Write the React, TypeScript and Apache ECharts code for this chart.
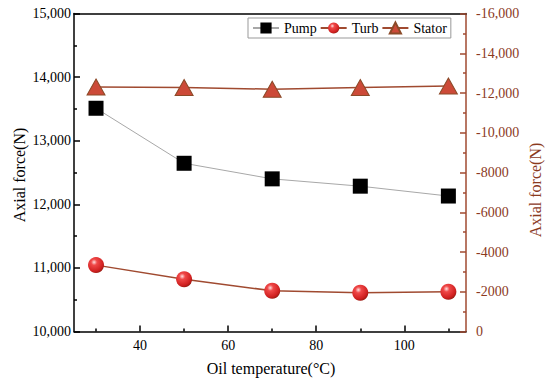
import React, { useEffect, useRef } from "react";
import * as echarts from "echarts";

const temps = [30, 50, 70, 90, 110];
const pump = [13510, 12645, 12400, 12285, 12130];
const turb = [-3340, -2630, -2050, -1950, -2000];
const stator = [-12300, -12280, -12190, -12280, -12350];
const xMajorTicks = [40, 60, 80, 100];
const xMinorTicks = [30, 50, 70, 90, 110];

const FONT = "Liberation Serif";
const BROWN = "#a04a30";
const BROWN_TEXT = "#8b3a1e";

export default function App() {
  const ref = useRef<HTMLDivElement>(null);
  useEffect(() => {
    if (!ref.current) return;
    const chart = echarts.init(ref.current, undefined, { renderer: "svg" });
    const grid = { left: 74, right: 84, top: 13.5, bottom: 55.5 };
    const sphere = new echarts.graphic.RadialGradient(0.38, 0.32, 0.75, [
      { offset: 0, color: "#ffe0e0" },
      { offset: 0.25, color: "#f04848" },
      { offset: 0.75, color: "#d02020" },
      { offset: 1, color: "#8a1a10" },
    ]);
    chart.setOption({
      animation: false,
      backgroundColor: "#fff",
      textStyle: { fontFamily: FONT },
      grid,
      legend: {
        data: ["Pump", "Turb", "Stator"],
        left: 248,
        top: 18,
        itemWidth: 26,
        itemHeight: 14,
        itemGap: 3,
        padding: [3, 4, 3, 4],
        borderColor: "#999",
        borderWidth: 1,
        backgroundColor: "#fff",
        textStyle: { fontFamily: FONT, fontSize: 14, color: "#000" },
      },
      xAxis: [
        {
          type: "value",
          position: "bottom",
          min: 25,
          max: 114,
          axisLine: { show: true, onZero: false, lineStyle: { color: "#000", width: 1.5 } },
          axisTick: { show: true, inside: true, length: 6, customValues: xMajorTicks, lineStyle: { color: "#000", width: 1.5 } },
          axisLabel: { customValues: xMajorTicks, margin: 7, fontFamily: FONT, fontSize: 14, color: "#000" },
          splitLine: { show: false },
        },
        {
          type: "value",
          position: "bottom",
          min: 25,
          max: 114,
          axisLine: { show: false },
          axisTick: { show: true, inside: true, length: 3, customValues: xMinorTicks, lineStyle: { color: "#000", width: 1.5 } },
          axisLabel: { show: false },
          splitLine: { show: false },
        },
        {
          type: "value",
          position: "top",
          min: 25,
          max: 114,
          axisLine: { show: true, onZero: false, lineStyle: { color: "#000", width: 1.5 } },
          axisTick: { show: false },
          axisLabel: { show: false },
          splitLine: { show: false },
        },
      ],
      yAxis: [
        {
          type: "value",
          position: "left",
          min: 10000,
          max: 15000,
          interval: 1000,
          axisLine: { show: true, onZero: false, lineStyle: { color: "#000", width: 1.5 } },
          axisTick: { show: true, inside: true, length: 6, lineStyle: { color: "#000", width: 1.5 } },
          minorTick: { show: true, splitNumber: 2, length: 3, lineStyle: { color: "#000", width: 1.5 } },
          axisLabel: {
            margin: 3,
            fontFamily: FONT,
            fontSize: 14,
            color: "#000",
            formatter: (v: number) => v.toLocaleString("en-US"),
          },
          splitLine: { show: false },
        },
        {
          type: "value",
          position: "right",
          min: -16000,
          max: 0,
          interval: 2000,
          inverse: true,
          axisLine: { show: true, onZero: false, lineStyle: { color: BROWN, width: 1.5 } },
          axisTick: { show: true, inside: true, length: 6, lineStyle: { color: BROWN, width: 1.5 } },
          minorTick: { show: true, splitNumber: 2, length: 3, lineStyle: { color: BROWN, width: 1.5 } },
          axisLabel: {
            margin: 10,
            fontFamily: FONT,
            fontSize: 14,
            color: BROWN_TEXT,
            formatter: (v: number) => (Math.abs(v) >= 10000 ? v.toLocaleString("en-US") : String(v)),
          },
          splitLine: { show: false },
        },
      ],
      series: [
        {
          name: "Pump",
          type: "line",
          xAxisIndex: 0,
          yAxisIndex: 0,
          data: temps.map((t, i) => [t, pump[i]]),
          symbol: "rect",
          symbolSize: 15,
          itemStyle: { color: "#000" },
          lineStyle: { color: "#a8a8a8", width: 1 },
          z: 3,
        },
        {
          name: "Turb",
          type: "line",
          xAxisIndex: 0,
          yAxisIndex: 1,
          data: temps.map((t, i) => [t, turb[i]]),
          symbol: "circle",
          symbolSize: 16,
          itemStyle: { color: sphere },
          lineStyle: { color: BROWN, width: 1.5 },
          z: 3,
        },
        {
          name: "Stator",
          type: "line",
          xAxisIndex: 0,
          yAxisIndex: 1,
          data: temps.map((t, i) => [t, stator[i]]),
          symbol: "triangle",
          symbolSize: [18, 16],
          itemStyle: { color: "#cc4a38", borderColor: "#8b4a28", borderWidth: 1 },
          lineStyle: { color: BROWN, width: 1.5 },
          z: 3,
        },
      ],
      graphic: [
        {
          type: "text",
          x: 19,
          y: 175,
          rotation: Math.PI / 2,
          style: {
            text: "Axial force(N)",
            fontFamily: FONT,
            fontSize: 16,
            fill: "#000",
            align: "center",
            verticalAlign: "middle",
          },
        },
        {
          type: "text",
          x: 535,
          y: 190,
          rotation: Math.PI / 2,
          style: {
            text: "Axial force(N)",
            fontFamily: FONT,
            fontSize: 16,
            fill: BROWN_TEXT,
            align: "center",
            verticalAlign: "middle",
          },
        },
        {
          type: "text",
          x: 271,
          y: 368,
          style: {
            text: "Oil temperature(\u00B0C)",
            fontFamily: FONT,
            fontSize: 16,
            fill: "#000",
            align: "center",
            verticalAlign: "middle",
          },
        },
      ],
    });
    return () => chart.dispose();
  }, []);
  return (
    <div
      ref={ref}
      style={{ position: "fixed", left: 0, top: 0, width: 550, height: 387, background: "#fff" }}
    />
  );
}
